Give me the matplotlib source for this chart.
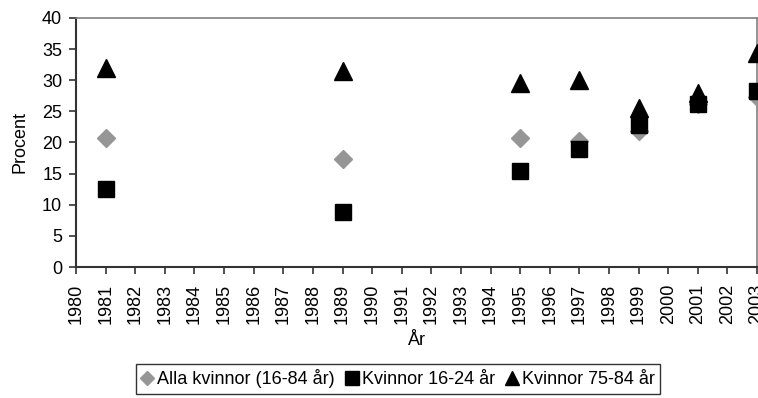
import matplotlib.pyplot as plt

plt.rcParams['font.family'] = ['Liberation Sans', 'DejaVu Sans']

#survey years and share (percent) per group
years = [1981, 1989, 1995, 1997, 1999, 2001, 2003]
alla = [20.8, 17.3, 20.7, 20.2, 21.9, 26.2, 27.3]
unga = [12.6, 8.8, 15.4, 18.9, 22.8, 26.1, 28.2]
aldre = [32.0, 31.5, 29.6, 30.0, 25.6, 27.9, 34.4]

year_ticks = list(range(1980, 2004))

fig = plt.figure(figsize=(7.58, 3.98), dpi=100)
ax = fig.add_axes([0.1003, 0.329, 0.8984, 0.626])

ax.plot(years, alla, linestyle='none', marker='D', markersize=9.5,
        color='#969696', label='Alla kvinnor (16-84 år)', zorder=3)
ax.plot(years, aldre, linestyle='none', marker='^', markersize=13,
        color='black', label='Kvinnor 75-84 år', zorder=4)
ax.plot(years, unga, linestyle='none', marker='s', markersize=12,
        color='black', label='Kvinnor 16-24 år', zorder=5)

ax.set_xlim(1980, 2003)
ax.set_ylim(0, 40)
ax.set_xticks(year_ticks)
ax.set_xticklabels([str(y) for y in year_ticks], rotation=90)
ax.set_yticks(range(0, 41, 5))
ax.tick_params(axis='both', labelsize=13, direction='out', length=5, width=1.2,
               colors='#333333', labelcolor='black')
ax.tick_params(axis='x', pad=7)
ax.tick_params(axis='y', pad=5)

ax.set_xlabel('År', fontsize=13, labelpad=6)
ax.set_ylabel('Procent', fontsize=13, labelpad=10)

for side in ['top', 'right']:
    ax.spines[side].set_color('#808080')
    ax.spines[side].set_linewidth(1.2)
for side in ['left', 'bottom']:
    ax.spines[side].set_color('#333333')
    ax.spines[side].set_linewidth(1.5)

#legend order as in the reference
handles, labels = ax.get_legend_handles_labels()
order = [0, 2, 1]
leg = fig.legend([handles[i] for i in order], [labels[i] for i in order],
                 loc='center', bbox_to_anchor=(0.525, 0.048), ncol=3,
                 fontsize=13, frameon=True, fancybox=False,
                 handlelength=0.7, handletextpad=0.2, columnspacing=0.6,
                 borderpad=0.3, markerscale=0.8)
leg.get_frame().set_edgecolor('black')
leg.get_frame().set_linewidth(1.0)

fig.savefig('out.png', dpi=100)
